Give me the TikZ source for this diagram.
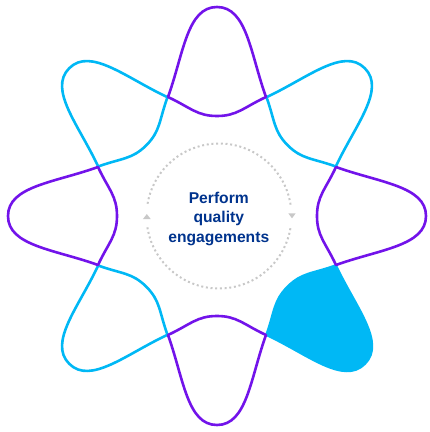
\documentclass[tikz,border=0pt]{standalone}
\usepackage{fontspec}
\newfontfamily\labelfont{Liberation Sans}
\usepackage{tikz}
\definecolor{petalviolet}{HTML}{7213EA}
\definecolor{petalblue}{HTML}{00B8F5}
\definecolor{labelblue}{HTML}{00338D}
\definecolor{ringgray}{HTML}{C8C8C8}
\tikzset{
  petal/.style={line width=2.6bp, line join=round},
  dotring/.style={color=ringgray, line width=2bp, dash pattern=on 2bp off 2.7bp}
}

\begin{document}
\begin{tikzpicture}[x=1bp, y=1bp]
        \useasboundingbox (-217,-216) rectangle (213,216);
        \foreach \a/\c/\f in {45/petalblue/none, 135/petalblue/none, 225/petalblue/petalblue, 315/petalblue/none,
                              0/petalviolet/none, 90/petalviolet/none, 180/petalviolet/none, 270/petalviolet/none}
          \draw[petal, draw=\c, fill=\f, rotate=\a] (-49,119) .. controls (-33.4,162.2) and (-30,209) .. (0,209)
            .. controls (30,209) and (33.4,162.2) .. (49,119)
            .. controls (26.4,108.4) and (20,100) .. (0,100)
            .. controls (-20,100) and (-26.4,108.4) .. cycle;
        \coordinate (ring) at (2,0);
        \draw[dotring] (ring) ++(9:72.5) arc[start angle=9, end angle=171, radius=72.5];
        \draw[dotring] (ring) ++(189:72.5) arc[start angle=189, end angle=351, radius=72.5];
        \fill[ringgray] (-74,-3) -- (-66.3,-3) -- (-70.2,1.9) -- cycle;
        \fill[ringgray] (71.3,2.7) -- (78.7,2.7) -- (75,-2.3) -- cycle;
        \node[text=labelblue, font=\labelfont\bfseries\fontsize{15.7}{19.5}\selectfont, align=center, inner sep=0pt]
          (label) at (1.8,-2.7) {Perform\\quality\\engagements};
      \end{tikzpicture}
\end{document}
